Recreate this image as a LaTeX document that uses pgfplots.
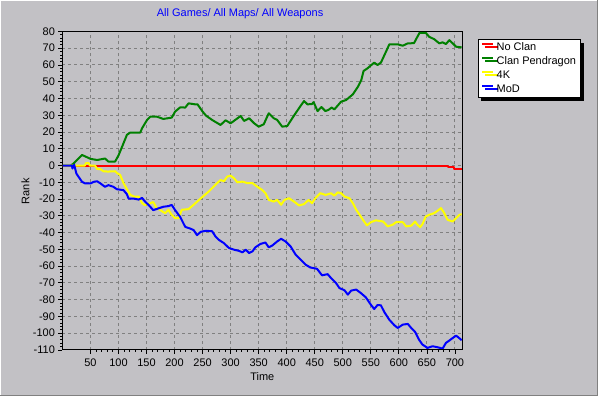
\documentclass[border=0pt]{standalone}
\usepackage{fontspec}
\setmainfont{Liberation Sans}
\usepackage{pgfplots}
\pgfplotsset{compat=1.18}
\usetikzlibrary{shadows}
\definecolor{bg}{RGB}{194,193,197}
\definecolor{gridc}{RGB}{128,128,128}
\definecolor{cgreen}{RGB}{0,128,0}
\definecolor{cyellow}{RGB}{255,255,0}
\definecolor{cblue}{RGB}{0,0,255}
\definecolor{cred}{RGB}{255,0,0}
\begin{document}
\begin{tikzpicture}[x=1pt,y=1pt]
\fill[bg] (0,0) rectangle (598,396);
\draw[white, line width=1pt] (0.5,0) -- (0.5,395.5) -- (598,395.5);
\draw[gridc, line width=1pt] (0,0.5) -- (597.5,0.5) -- (597.5,396);
\useasboundingbox (0,0) rectangle (598,396);
\begin{axis}[
  at={(62pt,46pt)}, anchor=south west,
  scale only axis, width=400.5pt, height=319pt,
  xmin=0, xmax=713, ymin=-110, ymax=80,
  xtick={50,100,...,700}, ytick={-110,-100,...,80},
  minor x tick num=4, minor y tick num=4,
  xtick pos=lower, ytick pos=left,
  tick align=outside,
  major tick length=4pt, minor tick length=2pt,
  tick style={black, line width=0.8pt},
  grid=major,
  major grid style={gridc, line width=1pt, dash pattern=on 3pt off 3pt},
  axis line style={black, line width=1pt},
  /pgf/number format/assume math mode=true,
  ticklabel style={font=\fontsize{11}{13}\selectfont},
  xticklabel style={yshift=-1pt},
  label style={font=\fontsize{11}{13}\selectfont},
  xlabel={Time},
  xlabel style={at={(axis description cs:0.5,0)}, anchor=center, yshift=-27pt},
  ylabel={Rank},
  ylabel style={at={(axis description cs:-0.0924,0.498)}, anchor=center},
  title={All Games/ All Maps/ All Weapons},
  title style={at={(axis description cs:0.4444,1)}, anchor=center, yshift=12pt, text=cblue, font=\fontsize{11}{13}\selectfont},
  legend cell align=left,
  legend image code/.code={\path[draw=none, fill=none] (0pt,3.8pt) -- (13pt,3.8pt); \draw[#1] (0pt,3.8pt) -- (10.6pt,3.8pt);},
  legend style={at={(axis description cs:1.0387,0.975)}, anchor=north west,
    draw=black, line width=1pt, fill=white,
    drop shadow={shadow xshift=3pt, shadow yshift=-3pt, fill=black, opacity=1},
    font=\fontsize{11}{13}\selectfont,
    inner xsep=3pt, inner ysep=1.5pt, row sep=1pt, column sep=0pt,
    nodes={inner sep=1.5pt, text height=8pt, text depth=2pt}},
  every axis plot/.append style={line width=2pt, line join=round},
]
\addplot[cred, no markers] coordinates {(0,0) (687,0) (687,-1) (699,-1) (699,-2) (713,-2)};
\addlegendentry{No Clan}
\addplot[cgreen, no markers] coordinates {
(0,0) (15,0) (20,1.2) (26,3.3) (35,6.3) (41,5.4) (50,4) (62,3.3) (76,4.2) (82,2.4) (94,2.4) (100,6) (109,13.3) (115,18.3) (121,19.7) (139,19.7) (142,22.2) (151,27.2) (157,29.2) (168,29.2) (180,27.8) (195,28.6) (201,32.2) (210,34.7) (219,34.6) (225,37.1) (237,36.5) (241,36.5) (250,32.2) (256,29.8) (267,27.2) (282,24.2) (291,27) (300,25.2) (318,29.6) (324,26.6) (333,28.2) (342,25.2) (350,23.2) (359,24.6) (368,31.2) (377,28.2) (383,27.2) (392,23.2) (401,23.6) (413,29.8) (425,35.7) (431,38.5) (437,36.5) (445,36.7) (448,37.8) (455,32.5) (462,34.9) (469,32.5) (475,33.3) (480,34.6) (485,33.5) (497,38.1) (506,39.1) (518,42.5) (527,47) (533,51) (537,56.4) (544,58) (556,61.4) (562,60) (568,61.4) (573,65) (577,67.9) (583,72.3) (598,72.3) (607,71.5) (616,72.9) (627,73) (633,76.8) (637,79.2) (648,79.2) (654,76.8) (663,75.4) (672,72.9) (678,73.5) (684,72.5) (690,74.8) (696,72.9) (702,70.9) (712,70.5)};
\addlegendentry{Clan Pendragon}
\addplot[cyellow, no markers] coordinates {
(0,0) (40,0) (42,1.4) (47,1.4) (49,0) (58,0) (62,-2) (68,-2.2) (73,-3.4) (81,-3.6) (94,-3.4) (98,-4.6) (103,-5.6) (109,-10.5) (115,-14) (121,-17.5) (128,-18.5) (136,-18.5) (142,-22.4) (147,-23.6) (157,-22.4) (162,-21.8) (168,-25.4) (174,-26.4) (183,-28.4) (189,-26.4) (195,-29.4) (201,-31.4) (207,-31.4) (213,-26.4) (225,-26) (234,-23.4) (247,-19.5) (261,-15.5) (264,-14.5) (276,-10.5) (282,-8.6) (288,-9.4) (294,-6.6) (300,-6) (306,-7.6) (312,-10) (321,-9.6) (330,-10.5) (339,-10.5) (347,-12.5) (356,-14.5) (362,-16.5) (368,-20.5) (377,-21.5) (383,-20.5) (390,-23.4) (396,-20.5) (404,-19.5) (413,-21.5) (422,-23.8) (431,-23) (439,-20.5) (445,-22.5) (451,-19.5) (460,-16.5) (469,-17.5) (475,-17) (479,-16.5) (485,-18) (491,-16) (497,-16.5) (503,-18.5) (512,-19.5) (518,-22.5) (524,-26.4) (530,-29.4) (536,-32.4) (543,-35.7) (550,-33.8) (559,-32.7) (572,-33.4) (580,-36.3) (589,-35.3) (595,-33.8) (607,-33.8) (613,-36.3) (622,-35.9) (629,-33.4) (633,-35.3) (638,-36.7) (642,-35) (648,-30.4) (654,-29.4) (663,-28.4) (669,-27) (675,-25.4) (680,-27.8) (687,-32.4) (696,-33.4) (702,-31.4) (708,-29.4) (712,-29)};
\addlegendentry{4K}
\addplot[cblue, no markers] coordinates {
(0,0) (17,0) (18,-1.8) (21,0.5) (25,-4.8) (29,-6.8) (35,-9.7) (41,-10.7) (50,-10.7) (56,-9.7) (62,-9.4) (68,-10.7) (76,-12.7) (82,-11.7) (91,-12.7) (97,-14.1) (109,-14.7) (115,-17.1) (118,-19.7) (127,-19.7) (136,-20.3) (142,-19.3) (148,-21.7) (154,-23.6) (162,-26.6) (171,-25.6) (180,-24.6) (189,-24.2) (195,-23.5) (201,-26.6) (210,-30.6) (219,-36.6) (228,-37.6) (234,-38.5) (240,-41.5) (247,-39.5) (256,-38.9) (267,-39.2) (273,-42.3) (279,-44.3) (288,-46.3) (297,-49.2) (306,-50.2) (315,-50.9) (321,-51.8) (327,-50.2) (333,-52.2) (339,-51.2) (344,-48.8) (353,-46.8) (362,-45.9) (368,-48.8) (374,-47.8) (383,-45.3) (390,-43.7) (398,-45.3) (407,-48.3) (416,-53.2) (425,-56.2) (434,-59.2) (442,-60.8) (454,-61.6) (463,-65.5) (473,-64.8) (479,-67.1) (488,-70.1) (494,-73.1) (503,-74.4) (509,-77) (515,-74.6) (524,-74) (532,-76) (541,-78.6) (550,-83) (556,-85.6) (562,-83.2) (568,-83.4) (574,-87.4) (583,-92) (592,-95.3) (598,-96.9) (607,-94.9) (616,-94.5) (622,-96.9) (629,-99.3) (636,-103.9) (642,-106.8) (651,-108.8) (660,-107.8) (669,-108.4) (678,-109.2) (684,-105.8) (690,-104.4) (696,-102.9) (702,-101.5) (706,-102.5) (712,-104.2)};
\addlegendentry{MoD}
\draw[black, line width=2.2pt] (rel axis cs:0,1) -- (rel axis cs:0,0) -- (rel axis cs:1,0);
\end{axis}
\end{tikzpicture}
\end{document}
